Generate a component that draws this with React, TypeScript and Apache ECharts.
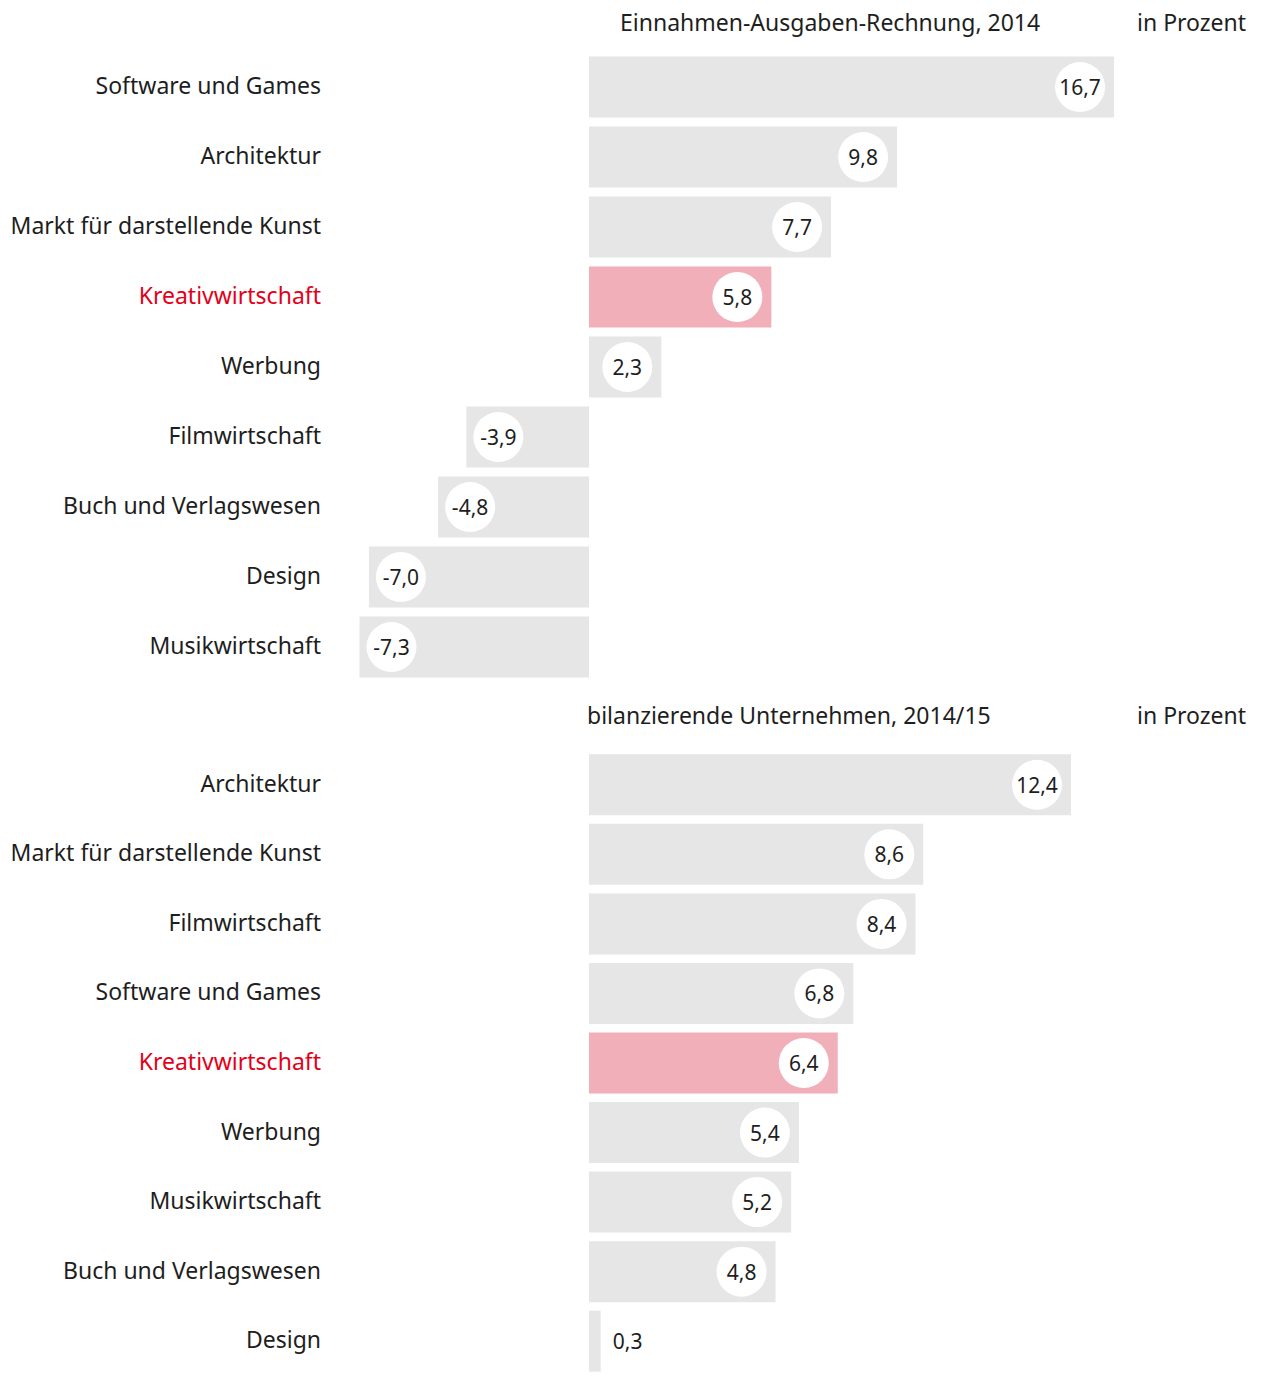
import React, { useEffect, useRef } from "react";
import * as echarts from "echarts";

const categoriesTop = [
  "Software und Games",
  "Architektur",
  "Markt für darstellende Kunst",
  "Kreativwirtschaft",
  "Werbung",
  "Filmwirtschaft",
  "Buch und Verlagswesen",
  "Design",
  "Musikwirtschaft",
];
const valuesTop = [16.7, 9.8, 7.7, 5.8, 2.3, -3.9, -4.8, -7.0, -7.3];

const categoriesBottom = [
  "Architektur",
  "Markt für darstellende Kunst",
  "Filmwirtschaft",
  "Software und Games",
  "Kreativwirtschaft",
  "Werbung",
  "Musikwirtschaft",
  "Buch und Verlagswesen",
  "Design",
];
const valuesBottom = [12.4, 8.6, 8.4, 6.8, 6.4, 5.4, 5.2, 4.8, 0.3];

const highlight = "Kreativwirtschaft";
const titleTop = "Einnahmen-Ausgaben-Rechnung, 2014";
const titleBottom = "bilanzierende Unternehmen, 2014/15";
const unitLabel = "in Prozent";

const FONT = "'Noto Sans', 'Open Sans', sans-serif";
const GRAY = "#e6e6e6";
const PINK = "#f1b0b9";
const RED = "#e2001a";
const TEXT = "#1e1e1e";

const fmt = (v: number) => v.toFixed(1).replace(".", ",");

function buildData(cats: string[], vals: number[], pxPerUnit: number) {
  return vals.map((v, i) => {
    const len = Math.abs(v) * pxPerUnit;
    let position: string;
    let distance: number;
    if (len < 60) {
      position = v >= 0 ? "right" : "left";
      distance = 2;
    } else if (v >= 0) {
      position = "insideRight";
      distance = 9;
    } else {
      position = "insideLeft";
      distance = 7;
    }
    return {
      value: v,
      itemStyle: { color: cats[i] === highlight ? PINK : GRAY },
      label: { position, distance },
    };
  });
}

const labelBase = {
  show: true,
  formatter: (p: any) => `{c|${fmt(p.value)}}`,
  rich: {
    c: {
      backgroundColor: "#ffffff",
      width: 50,
      height: 50,
      lineHeight: 50,
      borderRadius: 25,
      align: "center",
      fontSize: 21,
      fontFamily: FONT,
      color: TEXT,
    },
  },
};

const yLabel = (margin: number) => ({
  margin,
  fontSize: 23,
  fontFamily: FONT,
  color: TEXT,
  padding: [0, 0, 4, 0],
  formatter: (v: string) => (v === highlight ? `{hl|${v}}` : v),
  rich: {
    hl: { color: RED, fontSize: 23, fontFamily: FONT },
  },
});

const textEl = (text: string, x: number, y: number) => ({
  type: "text",
  x,
  y,
  style: {
    text,
    fill: TEXT,
    font: `23px ${FONT}`,
    textAlign: "left",
    textVerticalAlign: "middle",
    align: "left",
    verticalAlign: "middle",
  },
});

export default function App() {
  const ref = useRef<HTMLDivElement>(null);
  useEffect(() => {
    if (!ref.current) return;
    const chart = echarts.init(ref.current, null, { renderer: "svg" });
    const zero = 589;
    const topMin = -8,
      topMax = 17,
      topScale = 31.44;
    const botMin = 0,
      botMax = 13,
      botScale = 38.87;
    const topLeft = zero + topMin * topScale;
    const botLeft = zero + botMin * botScale;
    chart.setOption({
      animation: false,
      grid: [
        { left: topLeft, top: 52, width: (topMax - topMin) * topScale, height: 630 },
        { left: botLeft, top: 750, width: (botMax - botMin) * botScale, height: 630 },
      ],
      xAxis: [
        { gridIndex: 0, type: "value", min: topMin, max: topMax, show: false },
        { gridIndex: 1, type: "value", min: botMin, max: botMax, show: false },
      ],
      yAxis: [
        {
          gridIndex: 0,
          type: "category",
          data: categoriesTop,
          inverse: true,
          axisLine: { show: false },
          axisTick: { show: false },
          splitLine: { show: false },
          axisLabel: yLabel(topLeft - 321),
        },
        {
          gridIndex: 1,
          type: "category",
          data: categoriesBottom,
          inverse: true,
          axisLine: { show: false },
          axisTick: { show: false },
          splitLine: { show: false },
          axisLabel: yLabel(botLeft - 321),
        },
      ],
      series: [
        {
          type: "bar",
          xAxisIndex: 0,
          yAxisIndex: 0,
          barWidth: 61,
          data: buildData(categoriesTop, valuesTop, topScale),
          label: labelBase,
        },
        {
          type: "bar",
          xAxisIndex: 1,
          yAxisIndex: 1,
          barWidth: 61,
          data: buildData(categoriesBottom, valuesBottom, botScale),
          label: labelBase,
        },
      ],
      graphic: [
        textEl(titleTop, 620, 22),
        textEl(unitLabel, 1137, 22),
        textEl(titleBottom, 587, 715),
        textEl(unitLabel, 1137, 715),
      ],
    });
    return () => chart.dispose();
  }, []);
  return (
    <div
      ref={ref}
      style={{ position: "absolute", left: 0, top: 0, width: 1264, height: 1376 }}
    />
  );
}
